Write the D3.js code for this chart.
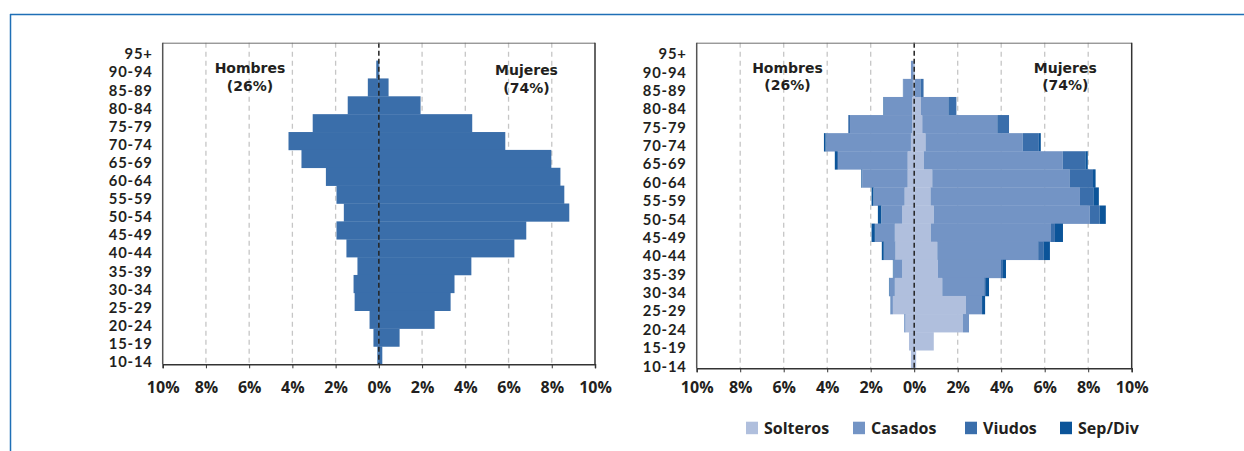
<!DOCTYPE html>
<html>
<head>
<meta charset="utf-8">
<script src="https://cdn.jsdelivr.net/npm/d3@7"></script>
<style>
  html, body { margin: 0; padding: 0; background: #fff; }
  svg { display: block; }
  text { font-family: "Open Sans", "DejaVu Sans", sans-serif; font-weight: 700; fill: #231f20; }
</style>
</head>
<body>
<svg id="chart" width="1244" height="451"></svg>
<script>
// Age groups, top to bottom
const ages = ["95+","90-94","85-89","80-84","75-79","70-74","65-69","60-64","55-59","50-54","45-49","40-44","35-39","30-34","25-29","20-24","15-19","10-14"];
const xTicks = [-10,-8,-6,-4,-2,0,2,4,6,8,10];

// Left chart: total % by sex
const menTotal   = [0.00,0.12,0.51,1.44,3.06,4.18,3.58,2.45,1.96,1.62,1.96,1.50,0.99,1.17,1.12,0.43,0.25,0.07];
const womenTotal = [0.00,0.02,0.45,1.93,4.32,5.85,7.98,8.40,8.58,8.81,6.82,6.27,4.28,3.50,3.32,2.58,0.96,0.16];

// Right chart: by marital status
const statusNames = ["Solteros","Casados","Viudos","Sep/Div"];
const menSolteros   = [0.00,0.03,0.06,0.10,0.10,0.15,0.30,0.30,0.44,0.55,0.89,0.86,0.55,0.89,0.98,0.40,0.24,0.15];
const menCasados    = [0.00,0.12,0.44,1.26,2.85,3.88,3.20,2.09,1.42,0.96,0.91,0.53,0.40,0.25,0.11,0.06,0.00,0.00];
const menViudos     = [0.00,0.00,0.02,0.06,0.08,0.05,0.05,0.03,0.02,0.01,0.01,0.01,0.01,0.00,0.01,0.00,0.00,0.00];
const menSepDiv     = [0.00,0.00,0.00,0.00,0.00,0.07,0.10,0.02,0.08,0.15,0.15,0.09,0.02,0.02,0.00,0.00,0.00,0.00];
const womenSolteros = [0.00,0.00,0.03,0.31,0.37,0.52,0.44,0.83,0.75,0.90,0.77,1.06,1.09,1.29,2.38,2.24,0.90,0.09];
const womenCasados  = [0.00,0.02,0.26,1.26,3.45,4.47,6.39,6.33,6.87,7.17,5.52,4.64,2.90,1.93,0.74,0.28,0.00,0.00];
const womenViudos   = [0.00,0.00,0.14,0.37,0.54,0.74,1.04,1.06,0.64,0.46,0.18,0.26,0.09,0.08,0.00,0.00,0.00,0.00];
const womenSepDiv   = [0.00,0.00,0.00,0.00,0.00,0.09,0.11,0.12,0.23,0.28,0.37,0.28,0.14,0.14,0.14,0.00,0.00,0.00];

const singleColor = "#3a6eaa";
const statusColors = ["#b0bfdd","#7394c5","#3a6eab","#0b5499"];

const svg = d3.select("#chart");

// outer frame
svg.append("line").attr("x1",10).attr("x2",1244).attr("y1",14.5).attr("y2",14.5)
  .attr("stroke","#1f6fb6").attr("stroke-width",1.5);
svg.append("line").attr("x1",10.5).attr("x2",10.5).attr("y1",14).attr("y2",451)
  .attr("stroke","#1f6fb6").attr("stroke-width",1.5);

function panel(cfg) {
  const g = svg.append("g");
  const x = d3.scaleLinear().domain([-10,10]).range([cfg.x0, cfg.x1]);
  const y = d3.scaleBand().domain(ages).range([cfg.y0, cfg.y1]).padding(0);
  const yLab = d3.scalePoint().domain(ages).range([cfg.lab0, cfg.lab1]);

  // grid
  g.selectAll("line.grid").data(xTicks.filter(t => t !== 0 && Math.abs(t) !== 10)).enter()
    .append("line").attr("class","grid")
    .attr("x1", d => x(d)).attr("x2", d => x(d))
    .attr("y1", cfg.y0).attr("y2", cfg.y1)
    .attr("stroke","#c6c6c6").attr("stroke-width",1.3).attr("stroke-dasharray","5,4");

  cfg.drawBars(g, x, y);

  // zero line
  g.append("line").attr("x1", x(0)).attr("x2", x(0)).attr("y1", cfg.y0).attr("y2", cfg.y1)
    .attr("stroke","#222").attr("stroke-width",1.5).attr("stroke-dasharray","5,3");

  // frame
  g.append("line").attr("x1",cfg.x0).attr("x2",cfg.x1).attr("y1",cfg.y0+0.5).attr("y2",cfg.y0+0.5)
    .attr("stroke","#6d6d6d").attr("stroke-width",1);
  g.append("line").attr("x1",cfg.x0).attr("x2",cfg.x0).attr("y1",cfg.y0).attr("y2",cfg.y1)
    .attr("stroke","#555").attr("stroke-width",1.5);
  g.append("line").attr("x1",cfg.x1).attr("x2",cfg.x1).attr("y1",cfg.y0).attr("y2",cfg.y1)
    .attr("stroke","#333").attr("stroke-width",1.5);

  // x axis
  const xAxis = d3.axisBottom(x).tickValues(xTicks).tickSize(4).tickPadding(cfg.xPad)
    .tickFormat(d => Math.abs(d) + "%");
  const ax = g.append("g").attr("transform", `translate(0,${cfg.y1})`).call(xAxis);
  ax.select(".domain").attr("stroke","#333").attr("stroke-width",1.5);
  ax.selectAll(".tick line").attr("stroke","#333");
  ax.selectAll("text").style("font-size","16px").style("font-family","'Open Sans', sans-serif")
    .style("font-weight","700").attr("fill","#231f20");

  // y axis labels (positioned as in the original, slightly off the bands)
  const yAxis = d3.axisLeft(yLab).tickSize(0).tickPadding(10);
  const ay = g.append("g").attr("transform", `translate(${cfg.x0},0)`).call(yAxis);
  ay.select(".domain").remove();
  ay.selectAll("text").style("font-size","14.8px").style("font-family","Lato, sans-serif")
    .style("font-weight","700").style("letter-spacing","0.8px").attr("fill","#231f20")
    .attr("dy","0.36em");

  // annotations
  const ann = [
    {lines:["Hombres","(26%)"], cx: cfg.hCx, by: cfg.hBy},
    {lines:["Mujeres","(74%)"], cx: cfg.mCx, by: cfg.mBy}
  ];
  ann.forEach(a => {
    a.lines.forEach((s,i) => {
      g.append("text").attr("x", a.cx).attr("y", a.by + i*17.4).attr("text-anchor","middle")
        .style("font-family","'DejaVu Sans', sans-serif").style("font-size","14px").text(s);
    });
  });
}

// Left panel
panel({
  x0: 162.7, x1: 595, y0: 42.7, y1: 364.3, lab0: 53.5, lab1: 361.2, xPad: 13,
  hCx: 250, hBy: 73.3, mCx: 526.5, mBy: 75.3,
  drawBars: (g, x, y) => {
    g.selectAll("rect.m").data(ages).enter().append("rect")
      .attr("x", (d,i) => x(-menTotal[i])).attr("width", (d,i) => x(0) - x(-menTotal[i]))
      .attr("y", d => y(d)).attr("height", y.bandwidth()+0.3).attr("fill", singleColor);
    g.selectAll("rect.w").data(ages).enter().append("rect")
      .attr("x", x(0)).attr("width", (d,i) => x(womenTotal[i]) - x(0))
      .attr("y", d => y(d)).attr("height", y.bandwidth()+0.3).attr("fill", singleColor);
  }
});

// Right panel
const menSeries = [menSolteros, menCasados, menViudos, menSepDiv];
const womenSeries = [womenSolteros, womenCasados, womenViudos, womenSepDiv];
panel({
  x0: 696.7, x1: 1131.7, y0: 42.7, y1: 368.3, lab0: 53.3, lab1: 365.8, xPad: 9,
  hCx: 787.5, hBy: 72.7, mCx: 1065.3, mBy: 72.7,
  drawBars: (g, x, y) => {
    ages.forEach((a, i) => {
      let cm = 0, cw = 0;
      statusNames.forEach((s, k) => {
        const vm = menSeries[k][i];
        if (vm > 0) {
          g.append("rect").attr("x", x(-(cm+vm))).attr("width", x(-cm) - x(-(cm+vm)))
            .attr("y", y(a)).attr("height", y.bandwidth()+0.3).attr("fill", statusColors[k]);
        }
        cm += vm;
        const vw = womenSeries[k][i];
        if (vw > 0) {
          g.append("rect").attr("x", x(cw)).attr("width", x(cw+vw) - x(cw))
            .attr("y", y(a)).attr("height", y.bandwidth()+0.3).attr("fill", statusColors[k]);
        }
        cw += vw;
      });
    });
  }
});

// Legend
const legendX = [746, 853, 965, 1060];
const lg = svg.append("g");
statusNames.forEach((s, k) => {
  lg.append("rect").attr("x", legendX[k]).attr("y", 421.7).attr("width", 12).attr("height", 12.5)
    .attr("fill", statusColors[k]);
  lg.append("text").attr("x", legendX[k] + 18).attr("y", 433.5).style("font-size","16px").text(s);
});
</script>
</body>
</html>
